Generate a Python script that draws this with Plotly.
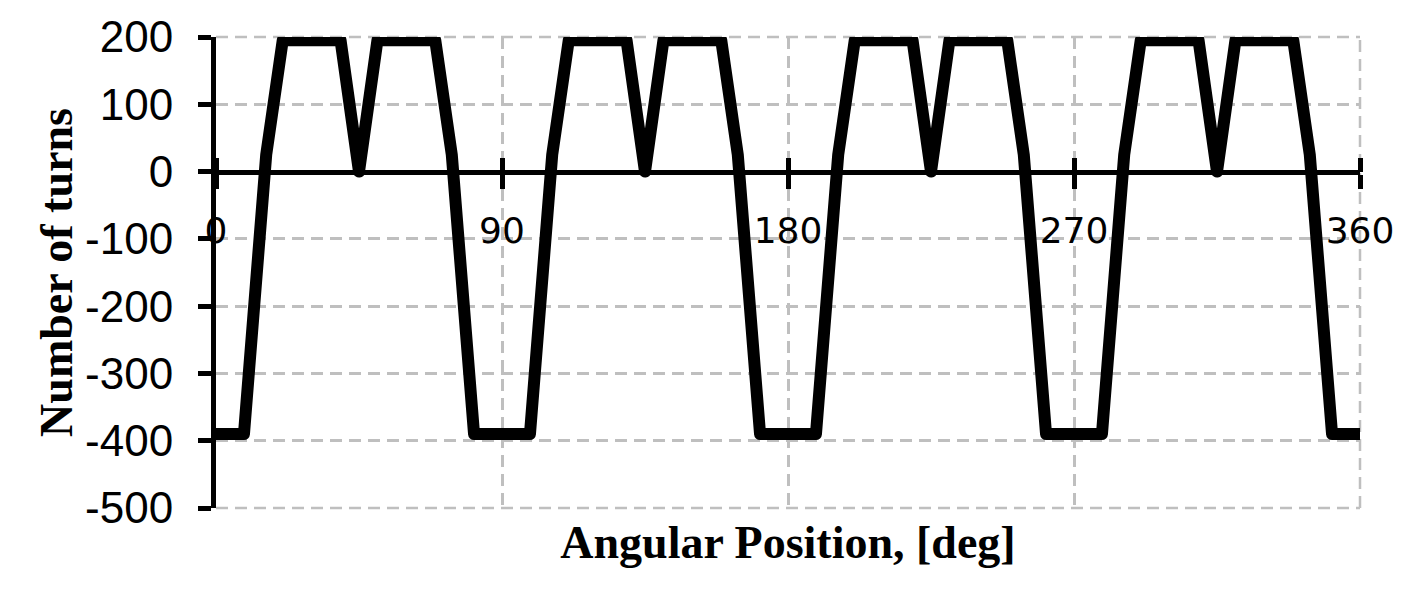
import plotly.graph_objects as go

# Angular position (deg) and number of turns
angle = [0, 8.8, 15.8, 21, 39.2, 45, 50.8, 69, 74.2, 81.2,
         98.8, 105.8, 111, 129.2, 135, 140.8, 159, 164.2, 171.2,
         188.8, 195.8, 201, 219.2, 225, 230.8, 249, 254.2, 261.2,
         278.8, 285.8, 291, 309.2, 315, 320.8, 339, 344.2, 351.2, 360]
turns = [-390, -390, 25, 195, 195, 0, 195, 195, 25, -390,
         -390, 25, 195, 195, 0, 195, 195, 25, -390,
         -390, 25, 195, 195, 0, 195, 195, 25, -390,
         -390, 25, 195, 195, 0, 195, 195, 25, -390, -390]

x_ticks = [0, 90, 180, 270, 360]
y_ticks = [200, 100, 0, -100, -200, -300, -400, -500]

x_range = [0, 360]
y_range = [-500, 200]
zero_pos = (0 - y_range[0]) / (y_range[1] - y_range[0])

grid_color = "#bfbfbf"
grid_dash = "12px,7px"
title_font = dict(family="Liberation Serif", size=46, color="black")

fig = go.Figure()
# helper (transparent) traces so that every axis gets drawn
for ax in ["x", "x3"]:
    fig.add_trace(go.Scatter(
        x=angle, y=turns, xaxis=ax, yaxis="y", mode="lines",
        line=dict(color="rgba(0,0,0,0)", width=0),
        showlegend=False, hoverinfo="skip",
    ))
fig.add_trace(go.Scatter(
    x=angle, y=turns, xaxis="x2", yaxis="y", mode="lines",
    line=dict(color="black", width=12),
    showlegend=False, hoverinfo="skip",
))

# dashed border gridlines at the range edges (plotly omits edge gridlines)
dash_line = dict(color=grid_color, width=2.5, dash=grid_dash)
fig.add_shape(type="line", xref="paper", yref="paper", x0=0, x1=1, y0=1, y1=1,
              line=dash_line, layer="below")
fig.add_shape(type="line", xref="paper", yref="paper", x0=0, x1=1, y0=0, y1=0,
              line=dash_line, layer="below")
fig.add_shape(type="line", xref="paper", yref="paper", x0=1, x1=1, y0=0, y1=1,
              line=dash_line, layer="below")

fig.update_layout(
    width=1410, height=583, autosize=False,
    margin=dict(l=208, r=58, t=29, b=83),
    paper_bgcolor="white", plot_bgcolor="white",
    xaxis=dict(
        range=x_range, tickvals=x_ticks, showticklabels=False, ticks="",
        showgrid=True, gridcolor=grid_color, griddash=grid_dash, gridwidth=2.5,
        zeroline=False, showline=False, automargin=False,
        title=dict(text="<b>Angular Position, [deg]</b>", font=title_font, standoff=17),
    ),
    xaxis2=dict(
        range=x_range, tickvals=x_ticks, ticktext=[str(v) for v in x_ticks],
        overlaying="x", anchor="free", position=zero_pos, side="bottom",
        showline=True, linecolor="black", linewidth=5,
        ticks="outside", ticklen=14, tickwidth=5, tickcolor="black",
        tickfont=dict(family="DejaVu Sans", size=36, color="black"),
        ticklabelstandoff=11, automargin=False,
        showgrid=False, zeroline=False,
    ),
    xaxis3=dict(
        range=x_range, tickvals=x_ticks,
        overlaying="x", anchor="free", position=zero_pos, side="top",
        showline=False, showticklabels=False, automargin=False,
        ticks="outside", ticklen=14, tickwidth=5, tickcolor="black",
        showgrid=False, zeroline=False,
    ),
    yaxis=dict(
        range=y_range, tickvals=y_ticks, ticktext=[str(v) for v in y_ticks],
        showline=True, linecolor="black", linewidth=5,
        ticks="outside", ticklen=13, tickwidth=5, tickcolor="black",
        tickfont=dict(family="Liberation Sans", size=44, color="black"),
        ticklabelstandoff=16, automargin=False,
        showgrid=True, gridcolor=grid_color, griddash=grid_dash, gridwidth=2.5,
        zeroline=False,
        title=dict(text="<b>Number of turns</b>", font=title_font, standoff=0),
    ),
)

round_joins = """
var gd = document.getElementById('{plot_id}');
function roundJoins() {
  gd.querySelectorAll('.scatterlayer path.js-line').forEach(function (p) {
    p.style.strokeLinejoin = 'round';
    p.style.strokeLinecap = 'round';
  });
}
roundJoins();
gd.on('plotly_afterplot', roundJoins);
"""

fig.write_html("out.html", post_script=round_joins)
